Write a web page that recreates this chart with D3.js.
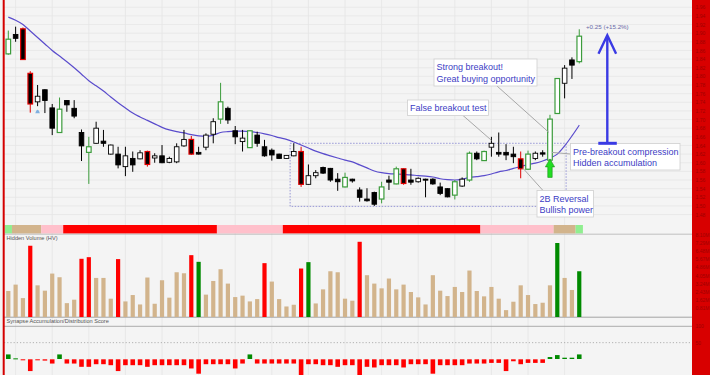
<!DOCTYPE html>
<html>
<head>
<meta charset="utf-8">
<script src="https://cdn.jsdelivr.net/npm/d3@7"></script>
<style>
  html, body { margin: 0; padding: 0; background: #f4f4f4; }
  svg { display: block; font-family: "Liberation Sans", Arial, sans-serif; }
</style>
</head>
<body>
<svg id="chart" width="710" height="375"></svg>
<script>
// ---- data ----
const opens  = [1.852,1.897,1.910,1.807,1.741,1.769,1.727,1.670,1.744,1.726,
                1.670,1.624,1.645,1.650,1.620,1.620,1.591,1.610,1.609,1.626,
                1.611,1.616,1.601,1.602,1.639,1.654,1.624,1.636,1.666,1.701,
                1.726,1.674,1.649,1.635,1.664,1.637,1.629,1.620,1.610,1.616,
                1.626,1.550,1.570,1.589,1.587,1.562,1.544,1.562,1.537,1.516,
                1.531,1.516,1.560,1.551,1.586,1.560,1.556,1.562,1.562,1.544,
                1.540,1.525,1.546,1.560,1.622,1.605,1.636,1.624,1.624,1.620,
                1.609,1.585,1.610,1.623,1.606,1.714,1.784,1.838,1.834];
const highs  = [1.906,1.915,1.913,1.812,1.780,1.770,1.736,1.751,1.745,1.745,
                1.677,1.660,1.695,1.676,1.642,1.637,1.637,1.626,1.629,1.628,
                1.622,1.641,1.614,1.645,1.676,1.662,1.637,1.668,1.703,1.785,
                1.730,1.685,1.676,1.675,1.672,1.653,1.633,1.621,1.617,1.645,
                1.637,1.596,1.583,1.591,1.588,1.576,1.577,1.563,1.543,1.541,
                1.533,1.556,1.570,1.591,1.587,1.586,1.566,1.563,1.564,1.554,
                1.541,1.560,1.566,1.626,1.626,1.628,1.660,1.670,1.643,1.637,
                1.626,1.628,1.626,1.629,1.711,1.796,1.826,1.844,1.909];
const lows   = [1.850,1.880,1.838,1.716,1.731,1.715,1.664,1.669,1.718,1.703,
                1.604,1.551,1.644,1.637,1.619,1.587,1.569,1.579,1.608,1.591,
                1.600,1.599,1.599,1.599,1.637,1.618,1.619,1.629,1.645,1.690,
                1.690,1.643,1.626,1.634,1.637,1.614,1.605,1.609,1.609,1.615,
                1.544,1.549,1.564,1.574,1.556,1.535,1.543,1.554,1.510,1.510,
                1.500,1.506,1.537,1.550,1.549,1.549,1.554,1.520,1.549,1.525,
                1.520,1.515,1.544,1.556,1.606,1.604,1.614,1.614,1.606,1.599,
                1.564,1.584,1.606,1.614,1.602,1.713,1.749,1.794,1.830];
const closes = [1.886,1.888,1.839,1.736,1.754,1.744,1.680,1.724,1.734,1.708,
                1.639,1.637,1.680,1.645,1.641,1.595,1.616,1.595,1.623,1.596,
                1.616,1.600,1.610,1.637,1.654,1.620,1.620,1.664,1.695,1.741,
                1.699,1.660,1.657,1.674,1.645,1.616,1.618,1.610,1.617,1.626,
                1.550,1.570,1.577,1.576,1.560,1.556,1.566,1.558,1.520,1.512,
                1.504,1.544,1.555,1.586,1.552,1.555,1.564,1.560,1.551,1.529,
                1.521,1.556,1.562,1.622,1.609,1.626,1.645,1.620,1.618,1.614,
                1.586,1.620,1.622,1.620,1.701,1.795,1.819,1.826,1.893];
// candle outline signal: n = plain, g = green, r = red
const signals = ("gnrrnnngnn" + "ngnnnnnnnr" + "nnnnnrnnng" + "nnngnnnnnn" +
                 "rnnnnngnnn" + "ngngrnnnnn" + "ngngngnnnn" + "rgnnggnng").split('');
// moving average, read at each bar
const maValues = [1.937,1.930,1.920,1.905,1.890,1.875,1.860,1.847,1.834,1.820,
                  1.805,1.790,1.778,1.766,1.752,1.739,1.727,1.715,1.706,1.698,
                  1.690,1.682,1.676,1.672,1.669,1.665,1.662,1.661,1.664,1.670,
                  1.672,1.673,1.673,1.672,1.670,1.667,1.663,1.658,1.654,1.648,
                  1.641,1.634,1.627,1.621,1.616,1.611,1.606,1.602,1.595,1.588,
                  1.581,1.577,1.575,1.574,1.573,1.572,1.570,1.569,1.567,1.563,
                  1.561,1.560,1.562,1.566,1.568,1.570,1.574,1.579,1.582,1.587,
                  1.591,1.596,1.599,1.604,1.611,1.620,1.639,1.662,1.687];
// hidden volume in millions
const volumes = [2.52,3.15,1.82,6.99,3.08,2.55,4.24,3.88,1.32,1.66,
                 5.70,5.86,3.81,3.81,1.76,5.67,1.49,2.12,1.19,3.85,
                 1.26,3.58,1.86,4.37,4.27,6.06,5.40,2.16,3.51,4.67,
                 3.25,1.92,2.06,1.49,1.72,5.27,3.45,1.72,0.99,1.16,
                 4.74,5.37,1.29,2.68,4.47,4.37,1.76,1.56,7.38,4.08,
                 3.25,2.78,3.75,2.68,3.15,2.42,1.89,1.19,4.08,2.55,
                 2.02,2.92,2.42,4.54,2.52,1.99,2.92,1.76,0.63,1.46,
                 3.08,2.12,1.23,1.36,3.08,7.26,3.81,2.62,4.47];
// volume class: t = normal, r = distribution, g = accumulation
const volumeTypes = ("tttrtttttt" + "rrtttrtttt" + "tttttrgttt" + "tttttrtttt" +
                     "rgttttttrt" + "tttttttttt" + "tttttttttt" + "tttttgttg").split('');
const scores = [14,2,-3,-36,-2,-4,-13,14,-13,-13,
                -23,-23,-15,-15,-18,-36,-18,-18,-18,-23,
                -18,-18,-18,-18,-18,-28,-44,-15,-15,-15,
                -15,-28,-13,14,-13,-13,-13,-13,-13,-13,
                -48,-15,-15,-18,-18,-23,-18,-18,-48,-23,
                -25,-18,-18,-18,-25,-15,-15,-15,-44,-18,
                -18,-18,-18,-13,-13,-13,-11,-11,-36,-6,
                -15,-11,-11,-11,6,12,4,4,14];
// trend zone strip, as runs of bars
const zoneRuns = [['bull',1],['neutral',4],['weak',3],['bear',21],['weak',9],
                  ['bear',27],['weak',10],['neutral',3],['bull',1]];

const priceTicks = [1.48,1.50,1.52,1.54,1.56,1.58,1.60,1.62,1.64,1.66,1.68,1.70,1.72,
                    1.74,1.76,1.78,1.80,1.82,1.84,1.86,1.88,1.90,1.92,1.94,1.96];
const volumeTicks = [0.81,1.62,2.43,3.24,4.05,4.86,5.67,6.48,7.29,8.10];
const scoreTicks = [50,100];

const moveFrom = 1.645, moveTo = 1.895;
const moveLabel = '+0.25 (+15.2%)';

// ---- layout ----
const W = 710, H = 375;
const plotLeft = 4, plotRight = 692;
const days = opens.map((d, i) => i);

const svg = d3.select('#chart');

const x = d3.scaleBand()
    .domain(days)
    .range([4.64, 582.92])
    .paddingInner(0.33)
    .paddingOuter(0.165);
const cx = i => x(i) + x.bandwidth() / 2;

const yPrice = d3.scaleLinear().domain([1.47, 1.98]).range([218.9, -1.4]);
const yVol = d3.scaleLinear().domain([0, 8.1]).range([316.5, 234.5]);
const yScore = d3.scaleLinear().domain([0, 100]).range([359, 326.3]);

// background
svg.append('rect').attr('width', W).attr('height', H).attr('fill', '#f4f4f4');

// grid
const grid = svg.append('g');
grid.selectAll('.hgrid')
    .data(priceTicks.filter(t => yPrice(t) > 0 && yPrice(t) < 222))
    .enter().append('line')
    .attr('x1', plotLeft).attr('x2', plotRight)
    .attr('y1', d => yPrice(d)).attr('y2', d => yPrice(d))
    .attr('stroke', '#e6e6e6').attr('stroke-width', 0.8);
grid.selectAll('.vgrid')
    .data(days.filter(i => i % 5 === 1))
    .enter().append('line')
    .attr('x1', d => cx(d)).attr('x2', d => cx(d))
    .attr('y1', 0).attr('y2', H)
    .attr('stroke', '#e4e4e4').attr('stroke-width', 0.8);

// consolidation box (dotted)
svg.append('rect')
    .attr('x', cx(39) - x.step() / 2)
    .attr('y', yPrice(1.645))
    .attr('width', cx(76) + 1.5 - (cx(39) - x.step() / 2))
    .attr('height', yPrice(1.499) - yPrice(1.645))
    .attr('fill', 'none')
    .attr('stroke', '#8c8cd2')
    .attr('stroke-width', 0.9)
    .attr('stroke-dasharray', '1.5,1.5');

// moving average
const maLine = d3.line()
    .x((d, i) => cx(i))
    .y(d => yPrice(d))
    .curve(d3.curveMonotoneX);
svg.append('path')
    .datum(maValues)
    .attr('d', maLine)
    .attr('fill', 'none')
    .attr('stroke', '#5a4ccc')
    .attr('stroke-width', 1.2);

// candles
const outlineColor = { n: '#000', g: '#3c9c3c', r: '#e00000' };
const candles = svg.append('g').selectAll('g')
    .data(days)
    .enter().append('g');

candles.append('line')
    .attr('x1', i => cx(i)).attr('x2', i => cx(i))
    .attr('y1', i => yPrice(highs[i]))
    .attr('y2', i => yPrice(lows[i]))
    .attr('stroke', i => outlineColor[signals[i]])
    .attr('stroke-width', 1);

candles.append('rect')
    .attr('x', i => cx(i) - 2.3)
    .attr('width', 4.6)
    .attr('y', i => yPrice(Math.max(opens[i], closes[i])))
    .attr('height', i => Math.max(1, yPrice(Math.min(opens[i], closes[i])) - yPrice(Math.max(opens[i], closes[i]))))
    .attr('fill', i => closes[i] >= opens[i] ? '#fff' : '#000')
    .attr('stroke', i => outlineColor[signals[i]])
    .attr('stroke-width', i => signals[i] === 'n' ? 0.9 : 1.2);

// small alert bell under bar 4
svg.append('path')
    .attr('transform', `translate(${cx(4)},${yPrice(lows[4]) + 5.5})`)
    .attr('d', 'M-2.3,1.6 L-1.4,-0.6 Q0,-3 1.4,-0.6 L2.3,1.6 Z')
    .attr('fill', '#7fb0e0');

// trend zone strip
let runStart = 0;
const zoneColor = { bull: '#90ee90', neutral: '#d2b48c', weak: '#ffc0cb', bear: '#ff0000' };
const strip = svg.append('g');
zoneRuns.forEach(([zone, n]) => {
    strip.append('rect')
        .attr('x', cx(runStart) - x.step() / 2)
        .attr('width', x.step() * n)
        .attr('y', 225)
        .attr('height', 8.5)
        .attr('fill', zoneColor[zone]);
    runStart += n;
});

// panel separators
svg.append('line').attr('x1', plotLeft).attr('x2', plotRight).attr('y1', 234.2).attr('y2', 234.2)
    .attr('stroke', '#b4b4b4').attr('stroke-width', 0.8);
svg.append('line').attr('x1', plotLeft).attr('x2', plotRight).attr('y1', 317.2).attr('y2', 317.2)
    .attr('stroke', '#9a9a9a').attr('stroke-width', 0.9);
svg.append('line').attr('x1', plotLeft).attr('x2', plotRight).attr('y1', yScore(100)).attr('y2', yScore(100))
    .attr('stroke', '#a4a4a4').attr('stroke-width', 0.9);
svg.append('line').attr('x1', plotLeft).attr('x2', plotRight).attr('y1', yScore(50)).attr('y2', yScore(50))
    .attr('stroke', '#a0a0a0').attr('stroke-width', 0.8).attr('stroke-dasharray', '1.2,2');

// volume bars
const volColor = { t: '#d2b48c', r: '#ff0000', g: '#008a00' };
svg.append('g').selectAll('rect')
    .data(volumes)
    .enter().append('rect')
    .attr('x', (d, i) => cx(i) - 2.1)
    .attr('width', 4.2)
    .attr('y', d => yVol(d))
    .attr('height', d => 317 - yVol(d))
    .attr('fill', (d, i) => volColor[volumeTypes[i]]);

// score bars
svg.append('g').selectAll('rect')
    .data(scores)
    .enter().append('rect')
    .attr('x', (d, i) => cx(i) - 2.3)
    .attr('width', 4.6)
    .attr('y', d => d >= 0 ? yScore(d) : yScore(0) + 0.3)
    .attr('height', d => Math.max(1, Math.abs(yScore(d) - yScore(0))))
    .attr('fill', d => d >= 0 ? '#008a00' : '#ff0000');

// panel titles
svg.append('text').attr('x', 6.5).attr('y', 240).attr('font-size', 5.6).attr('fill', '#555')
    .text('Hidden Volume (HV)');
svg.append('text').attr('x', 6.5).attr('y', 323.3).attr('font-size', 5.6).attr('fill', '#555')
    .text('Synapse Accumulation/Distribution Score');

// callouts
const textBlue = '#3c3cc4';
function callout(lines, box, from, to) {
    const g = svg.append('g');
    g.append('line')
        .attr('x1', from[0]).attr('y1', from[1]).attr('x2', to[0]).attr('y2', to[1])
        .attr('stroke', '#a8a8a8').attr('stroke-width', 1);
    g.append('rect')
        .attr('x', box.x).attr('y', box.y).attr('width', box.w).attr('height', box.h)
        .attr('fill', '#fff').attr('stroke', '#cfcfcf').attr('stroke-width', 0.8);
    lines.forEach((t, k) => {
        g.append('text')
            .attr('x', box.x + 2.5)
            .attr('y', box.y + 11 + k * 11.8)
            .attr('font-size', 9)
            .attr('fill', textBlue)
            .text(t);
    });
}
callout(['Strong breakout!', 'Great buying opportunity'],
    { x: 434, y: 59, w: 103, h: 27 }, [497, 86], [cx(74) - 1, yPrice(1.67)]);
callout(['False breakout test'],
    { x: 407.5, y: 100, w: 81, h: 15.5 }, [463, 115.5], [cx(66), yPrice(1.652)]);
callout(['Pre-breakout compression', 'Hidden accumulation'],
    { x: 570.5, y: 143.5, w: 109.5, h: 26.5 }, [570.5, 154], [cx(74) + 2, yPrice(1.624)]);
callout(['2B Reversal', 'Bullish power'],
    { x: 537, y: 190.5, w: 56.5, h: 26.5 }, [543, 190.5], [cx(70) + 2, yPrice(1.588)]);

// green breakout arrow
const ga = { x: cx(74), y: yPrice(lows[74]) - 3 };
svg.append('path')
    .attr('d', `M${ga.x},${ga.y} L${ga.x + 4.6},${ga.y + 8} L${ga.x + 2.2},${ga.y + 8} L${ga.x + 2.2},${ga.y + 18.5}
               L${ga.x - 2.2},${ga.y + 18.5} L${ga.x - 2.2},${ga.y + 8} L${ga.x - 4.6},${ga.y + 8} Z`)
    .attr('fill', '#22dd22')
    .attr('stroke', '#159015')
    .attr('stroke-width', 0.6);

// measured move arrow
const arrowX = 607.3;
const blue = '#3a3ae4';
svg.append('line').attr('x1', arrowX).attr('x2', arrowX)
    .attr('y1', yPrice(moveFrom)).attr('y2', yPrice(moveTo) + 1)
    .attr('stroke', blue).attr('stroke-width', 2.4);
svg.append('line').attr('x1', arrowX - 9).attr('x2', arrowX + 9.5)
    .attr('y1', yPrice(moveFrom)).attr('y2', yPrice(moveFrom))
    .attr('stroke', blue).attr('stroke-width', 3);
svg.append('path')
    .attr('d', `M${arrowX - 8.8},${yPrice(moveTo) + 18.5} L${arrowX},${yPrice(moveTo)} L${arrowX + 8.8},${yPrice(moveTo) + 18.5}`)
    .attr('fill', 'none').attr('stroke', blue).attr('stroke-width', 2.4);
svg.append('text').attr('x', 586).attr('y', yPrice(moveTo) - 6).attr('font-size', 6.2)
    .attr('fill', '#6a6aa8').text(moveLabel);

// left edge marker
svg.append('line').attr('x1', 3.7).attr('x2', 3.7).attr('y1', 0).attr('y2', H)
    .attr('stroke', '#d40000').attr('stroke-width', 2);

// right axis band
svg.append('rect').attr('x', plotRight).attr('y', 0).attr('width', W - plotRight).attr('height', H)
    .attr('fill', '#d80000');

const axisStyle = g => {
    g.select('.domain').remove();
    g.selectAll('line').remove();
    g.selectAll('text').attr('fill', '#a00000').attr('font-size', 5).attr('x', 2.5)
        .attr('font-family', '"Liberation Sans", Arial, sans-serif');
};
svg.append('g').attr('transform', `translate(${plotRight + 1},0)`)
    .call(d3.axisRight(yPrice).tickValues(priceTicks).tickFormat(d3.format('.2f')).tickSize(0))
    .call(axisStyle);
svg.append('g').attr('transform', `translate(${plotRight + 1},0)`)
    .call(d3.axisRight(yVol).tickValues(volumeTicks).tickFormat(d => d3.format('.2f')(d) + 'M').tickSize(0))
    .call(axisStyle);
svg.append('g').attr('transform', `translate(${plotRight + 1},0)`)
    .call(d3.axisRight(yScore).tickValues(scoreTicks).tickFormat(d3.format('d')).tickSize(0))
    .call(axisStyle);
</script>
</body>
</html>
